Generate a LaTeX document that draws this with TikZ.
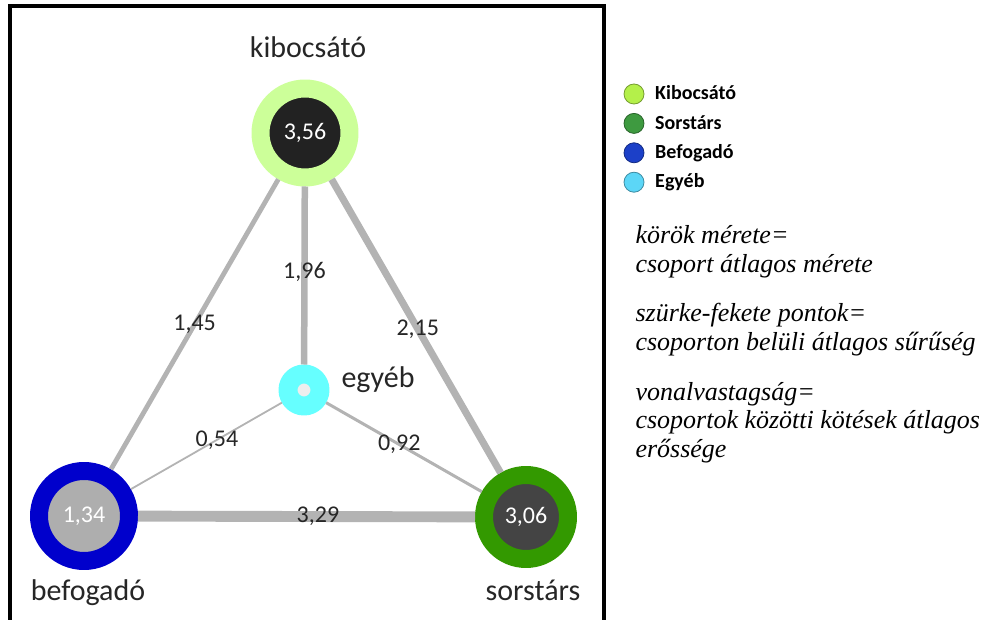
\documentclass[tikz,border=0pt]{standalone}
\usepackage{fontspec}
\setmainfont{Carlito}
\newfontfamily\notefont{Liberation Serif}
\definecolor{kibring}{HTML}{CCFF99}
\definecolor{kibcore}{HTML}{222222}
\definecolor{befring}{HTML}{0000CC}
\definecolor{befcore}{HTML}{AEAEAE}
\definecolor{sorring}{HTML}{339900}
\definecolor{sorcore}{HTML}{444444}
\definecolor{egyring}{HTML}{66FFFF}
\definecolor{egycore}{HTML}{EEEEEE}
\definecolor{tiegray}{HTML}{B3B3B3}
\definecolor{legkib}{HTML}{B4F04A}
\definecolor{legsor}{HTML}{3E9A40}
\definecolor{legbef}{HTML}{1C40C8}
\definecolor{legegy}{HTML}{5CD6F7}
\begin{document}
\begin{tikzpicture}[x=1pt, y=-1pt, line join=round,
	ring/.style={circle, inner sep=0pt, line width=18pt, text=white, font=\fontsize{24}{28}\selectfont},
	tie/.style={draw=tiegray},
	val/.style={text=black!85, font=\fontsize{24}{28}\selectfont},
	group/.style={anchor=base, text=black!85, font=\fontsize{30}{36}\selectfont},
	key/.style={circle, minimum size=20pt, inner sep=0pt, line width=0.8pt},
	keytext/.style={anchor=base west, font=\bfseries\fontsize{20}{24}\selectfont},
	note/.style={anchor=base west, font=\notefont\itshape\fontsize{26}{30}\selectfont}]
	\useasboundingbox (0,0) rectangle (988,620);
	\draw[line width=4pt, line join=miter] (10,630) -- (10,6) -- (603.5,6) -- (603.5,630);
	% groups
	\node[ring, draw=kibring, fill=kibcore, minimum size=89pt] (kib) at (305,133) {3,56};
	\node[ring, draw=befring, fill=befcore, minimum size=90pt] (bef) at (84,516) {1,34};
	\node[ring, draw=sorring, fill=sorcore, minimum size=84pt] (sor) at (526,517) {3,06};
	\node[ring, draw=egyring, fill=egycore, minimum size=32pt, line width=19pt] (egy) at (304,390) {};
	\node[group] (kibname) at (308,58) {kibocsátó};
	\node[group] (befname) at (88,600) {befogadó};
	\node[group] (sorname) at (533,600) {sorstárs};
	\node[group, anchor=base west] (egyname) at (338,387) {egyéb};
	% ties
	\draw[tie, line width=6.5pt] (kib) -- node[val, pos=.48] (v-ke) {1,96} (egy);
	\draw[tie, line width=4.8pt] (kib) -- node[val, pos=.5] (v-kb) {1,45} (bef);
	\draw[tie, line width=7.1pt] (kib) -- node[val, pos=.51] (v-ks) {2,15} (sor);
	\draw[tie, line width=1.8pt] (bef) -- node[val, pos=.57] (v-be) {0,54} (egy);
	\draw[tie, line width=3pt] (egy) -- node[val, pos=.47] (v-es) {0,92} (sor);
	\draw[tie, line width=10.9pt] (bef) -- node[val, pos=.534] (v-bs) {3,29} (sor);
	% legend
	\foreach \c/\t [count=\i] in {legkib/Kibocsátó, legsor/Sorstárs, legbef/Befogadó, legegy/Egyéb} {
		\node[key, fill=\c, draw=\c!65!black] (key\i) at (634,64.6+29.4*\i) {};
		\node[keytext] (keyname\i) at (651.7,70.4+29.4*\i) {\t};
	}
	\foreach \y/\t [count=\i] in {244/körök mérete=, 273/csoport átlagos mérete, 322/szürke-fekete pontok=, 350/csoporton belüli átlagos sűrűség, 400/vonalvastagság=, 428/csoportok közötti kötések átlagos, 457/erőssége}
		\node[note] (note\i) at (632,\y) {\t};
\end{tikzpicture}
\end{document}
